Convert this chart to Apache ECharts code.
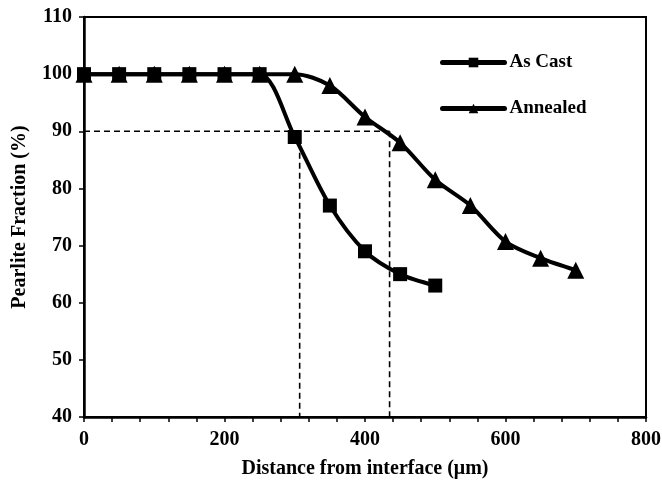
<!DOCTYPE html>
<html>
<head>
<meta charset="utf-8">
<script src="https://cdn.jsdelivr.net/npm/echarts@6/dist/echarts.min.js"></script>
<style>
  html, body { margin: 0; padding: 0; background: #fff; }
  #chart { width: 662px; height: 481px; }
</style>
</head>
<body>
<div id="chart"></div>
<script>
var asCastX = [0, 50, 100, 150, 200, 250, 300, 350, 400, 450, 500];
var asCastY = [100, 100, 100, 100, 100, 100, 89, 77, 69, 65, 63];
var annealedX = [0, 50, 100, 150, 200, 250, 300, 350, 400, 450, 500, 550, 600, 650, 700];
var annealedY = [100, 100, 100, 100, 100, 100, 100, 98, 92.5, 88, 81.5, 77, 70.7, 67.8, 65.7];
// guide lines at 90 %
var guideH = [[0, 90], [435, 90]];
var guideV1 = [[307, 88], [307, 40]];
var guideV2 = [[435, 90], [435, 40]];

function pairs(xs, ys) {
  return xs.map(function (x, i) { return [x, ys[i]]; });
}

var font = '"Liberation Serif", "Times New Roman", serif';
var chart = echarts.init(document.getElementById('chart'));

var dashed = {
  type: 'line', symbol: 'none', silent: true, z: 1,
  lineStyle: { color: '#000', width: 1.6, type: [6, 4] }
};

chart.setOption({
  animation: false,
  grid: {
    left: 84, right: 16, top: 17, bottom: 64, outerBoundsMode: 'none',
    show: true, borderColor: '#000', borderWidth: 2
  },
  legend: {
    orient: 'vertical', left: 435, top: 48, itemGap: 27,
    itemWidth: 62, itemHeight: 12,
    lineStyle: { width: 5, cap: 'round' },
    textStyle: { fontFamily: font, fontWeight: 'bold', fontSize: 19, color: '#000' },
    data: ['As Cast', 'Annealed']
  },
  xAxis: {
    type: 'value', min: 0, max: 800, interval: 40,
    name: 'Distance from interface (\u03bcm)', nameLocation: 'middle', nameGap: 42,
    nameTextStyle: { fontFamily: font, fontWeight: 'bold', fontSize: 20, color: '#000' },
    axisLine: { lineStyle: { color: '#000', width: 2.5 } },
    axisTick: { show: true, length: 5, lineStyle: { color: '#000', width: 1.5 } },
    axisLabel: {
      margin: 13, fontFamily: font, fontWeight: 'bold', fontSize: 20, color: '#000',
      formatter: function (v) { return v % 200 === 0 ? String(v) : ''; }
    },
    splitLine: { show: false }
  },
  yAxis: {
    type: 'value', min: 40, max: 110, interval: 10,
    name: 'Pearlite Fraction (%)', nameLocation: 'middle', nameGap: 54,
    nameTextStyle: { fontFamily: font, fontWeight: 'bold', fontSize: 20, color: '#000' },
    axisLine: { show: true, lineStyle: { color: '#000', width: 2.5 } },
    axisTick: { show: true, length: 5, lineStyle: { color: '#000', width: 1.5 } },
    axisLabel: { margin: 12, fontFamily: font, fontWeight: 'bold', fontSize: 20, color: '#000' },
    splitLine: { show: false }
  },
  series: [
    Object.assign({ name: 'guideH', data: guideH }, dashed),
    Object.assign({ name: 'guideV1', data: guideV1 }, dashed),
    Object.assign({ name: 'guideV2', data: guideV2 }, dashed),
    {
      name: 'As Cast', type: 'line', smooth: 0.3, z: 3,
      data: pairs(asCastX, asCastY),
      symbol: 'rect', symbolSize: 14,
      itemStyle: { color: '#000' },
      lineStyle: { color: '#000', width: 4 }
    },
    {
      name: 'Annealed', type: 'line', smooth: 0.3, z: 4,
      data: pairs(annealedX, annealedY),
      symbol: 'triangle', symbolSize: 17,
      itemStyle: { color: '#000' },
      lineStyle: { color: '#000', width: 4 }
    }
  ]
});
</script>
</body>
</html>
